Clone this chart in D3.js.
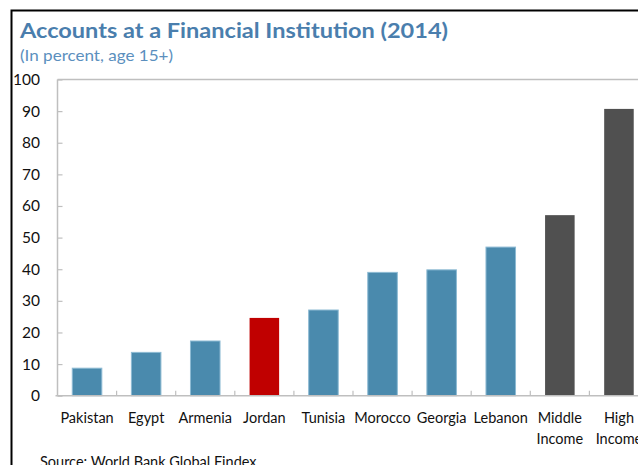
<!DOCTYPE html>
<html><head><meta charset="utf-8">
<script src="https://cdn.jsdelivr.net/npm/d3@7"></script>
<style>body{margin:0;background:#fff}svg{display:block}text{font-family:Lato,"Open Sans",sans-serif}</style>
</head><body><svg id="c" width="638" height="465"></svg>
<script>
(function(){
const categories = [["Pakistan"],["Egypt"],["Armenia"],["Jordan"],["Tunisia"],["Morocco"],["Georgia"],["Lebanon"],["Middle","Income"],["High","Income"]];
const values = [8.7, 13.7, 17.3, 24.6, 27.1, 39.0, 39.8, 47.0, 57.1, 90.7];
const groups = ["peer","peer","peer","focus","peer","peer","peer","peer","aggregate","aggregate"];
const yTicks = [0,10,20,30,40,50,60,70,80,90,100];
const title = "Accounts at a Financial Institution (2014)";
const subtitle = "(In percent, age 15+)";
const source = "Source: World Bank Global Findex";

const colors = {peer:"#4a8aad", focus:"#c00000", aggregate:"#505050"};
const svg = d3.select("#c");
const mLeft = 57.5, mTop = 79.5, mBottom = 395.7, band = 59.1;
const ids = categories.map((d,i)=>i);
const x = d3.scaleBand().domain(ids).range([mLeft, mLeft + band*ids.length]).paddingInner(0.5).paddingOuter(0.25);
const y = d3.scaleLinear().domain([0,100]).range([mBottom, mTop]);
const grey = "#bfbfbf";

// frame
svg.append("path").attr("d","M11.5,640 V10.5 H640").attr("fill","none").attr("stroke","#000").attr("stroke-width",2);

svg.append("text").attr("x",20).attr("y",38).attr("fill","#4a7ead").attr("font-weight","bold").attr("font-size",20.5)
  .attr("textLength",428).attr("lengthAdjust","spacingAndGlyphs").text(title);
svg.append("text").attr("x",20).attr("y",61).attr("fill","#5b8fbe").attr("font-size",15)
  .attr("textLength",153).attr("lengthAdjust","spacingAndGlyphs").text(subtitle);

// bars
svg.append("g").selectAll("rect").data(values).join("rect")
  .attr("x",(d,i)=>x(i)).attr("width",x.bandwidth())
  .attr("y",d=>y(d)).attr("height",d=>mBottom-y(d))
  .attr("fill",(d,i)=>colors[groups[i]])
  .attr("stroke",(d,i)=>groups[i]==="peer"?"#8dbad3":"none").attr("stroke-width",1);

// y axis
const ya = svg.append("g").attr("transform",`translate(${mLeft},0)`)
  .call(d3.axisRight(y).tickValues(yTicks).tickSize(5).tickFormat(""));
ya.selectAll("line").attr("stroke",grey).attr("stroke-width",1.2);
ya.select(".domain").remove();
svg.append("line").attr("x1",mLeft).attr("x2",mLeft).attr("y1",mTop).attr("y2",mBottom).attr("stroke",grey).attr("stroke-width",1.5);
svg.append("g").selectAll("text").data(yTicks).join("text")
  .attr("x",40).attr("y",d=>y(d)+5.5).attr("text-anchor","end").attr("font-size",15.5).attr("fill","#111")
  .text(d=>d);

// top border line
svg.append("line").attr("x1",mLeft).attr("x2",640).attr("y1",mTop).attr("y2",mTop).attr("stroke",grey).attr("stroke-width",1.5);

// x axis
svg.append("line").attr("x1",mLeft-2).attr("x2",640).attr("y1",mBottom).attr("y2",mBottom).attr("stroke",grey).attr("stroke-width",1.5);
svg.append("g").selectAll("line").data(ids.slice(1)).join("line")
  .attr("x1",d=>x(d)-band*0.25).attr("x2",d=>x(d)-band*0.25).attr("y1",mBottom).attr("y2",mBottom-5)
  .attr("stroke",grey).attr("stroke-width",1.2);
const xl = svg.append("g").selectAll("text").data(categories).join("text")
  .attr("x",(d,i)=>x(i)+x.bandwidth()/2).attr("y",423).attr("text-anchor","middle").attr("font-size",14.5).attr("fill","#111");
xl.selectAll("tspan").data(d=>d).join("tspan").attr("x",function(){return this.parentNode.getAttribute("x");})
  .attr("dy",(d,j)=>j?21:0).text(d=>d);

svg.append("text").attr("x",40).attr("y",467).attr("font-size",14.5).attr("fill","#111").text(source);
})();
</script></body></html>
